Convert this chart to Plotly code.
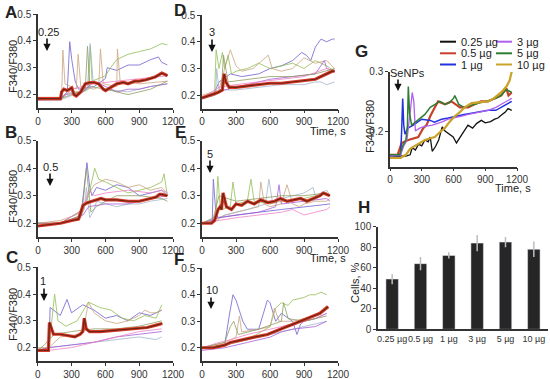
import plotly.graph_objects as go

W, H = 550, 379

# ---------------- data ----------------
TIME_TICKS = [0, 300, 600, 900, 1200]
RATIO_TICKS = [0.2, 0.3, 0.4, 0.5]
DOSE_ARROW = ["0.25", "0.5", "1", "3", "5", "10"]

# Panel A (0.25 µg)
A_mean_t = [0, 200, 210, 230, 260, 300, 320, 340, 380, 420, 460, 500, 540, 580, 600, 640, 700, 760, 800, 860, 900, 960, 1000, 1040, 1080, 1100, 1130, 1150]
A_mean_v = [0.185, 0.185, 0.21, 0.22, 0.215, 0.225, 0.2, 0.195, 0.21, 0.24, 0.245, 0.245, 0.24, 0.22, 0.215, 0.225, 0.24, 0.245, 0.24, 0.25, 0.25, 0.255, 0.26, 0.265, 0.275, 0.28, 0.275, 0.27]
A_thin_t = [
    [0, 200, 260, 282, 300, 330, 360, 500, 600, 615, 700, 800, 900, 1000, 1070, 1100, 1150],
    [0, 200, 240, 300, 400, 450, 465, 480, 600, 645, 700, 800, 900, 1000, 1050, 1100, 1150],
    [0, 210, 221, 240, 340, 357, 380, 500, 540, 555, 580, 700, 706, 730, 900, 1150],
    [0, 200, 440, 463, 490, 600, 800, 1000, 1150],
    [0, 200, 250, 400, 500, 600, 700, 800, 900, 1000, 1150],
    [0, 200, 300, 500, 700, 900, 1150],
    [0, 200, 300, 420, 440, 460, 600, 800, 1000, 1150],
]
A_thin_v = [
    [0.185, 0.185, 0.21, 0.397, 0.33, 0.25, 0.22, 0.23, 0.26, 0.3, 0.29, 0.31, 0.31, 0.33, 0.34, 0.32, 0.31],
    [0.18, 0.18, 0.2, 0.21, 0.21, 0.22, 0.38, 0.25, 0.27, 0.3, 0.33, 0.35, 0.36, 0.37, 0.38, 0.39, 0.385],
    [0.19, 0.19, 0.366, 0.24, 0.22, 0.35, 0.23, 0.22, 0.23, 0.37, 0.24, 0.23, 0.37, 0.25, 0.24, 0.25],
    [0.18, 0.18, 0.22, 0.39, 0.25, 0.22, 0.21, 0.23, 0.24],
    [0.18, 0.185, 0.2, 0.21, 0.25, 0.23, 0.21, 0.22, 0.22, 0.23, 0.24],
    [0.18, 0.18, 0.22, 0.24, 0.25, 0.26, 0.27],
    [0.185, 0.185, 0.2, 0.22, 0.38, 0.23, 0.22, 0.2, 0.22, 0.25],
]

# Panel B (0.5 µg)
B_mean_t = [0, 100, 200, 300, 360, 380, 400, 420, 440, 480, 520, 560, 600, 700, 800, 900, 1000, 1050, 1080, 1100, 1150]
B_mean_v = [0.19, 0.195, 0.2, 0.21, 0.215, 0.24, 0.265, 0.27, 0.275, 0.28, 0.285, 0.29, 0.285, 0.285, 0.28, 0.28, 0.29, 0.295, 0.305, 0.305, 0.3]
B_thin_t = [
    [0, 200, 380, 435, 460, 480, 520, 600, 700, 800, 900, 1000, 1100, 1150],
    [0, 200, 400, 450, 504, 540, 600, 700, 800, 900, 1000, 1100, 1120, 1150],
    [0, 200, 400, 440, 500, 600, 700, 800, 900, 1000, 1100, 1150],
    [0, 200, 410, 430, 460, 500, 520, 600, 700, 800, 900, 1000, 1150],
    [0, 200, 400, 450, 600, 800, 1000, 1150],
    [0, 200, 400, 450, 500, 600, 800, 1000, 1100, 1150],
    [0, 200, 390, 430, 470, 520, 600, 700, 900, 1100, 1150],
]
B_thin_v = [
    [0.2, 0.2, 0.22, 0.42, 0.33, 0.3, 0.33, 0.32, 0.34, 0.33, 0.3, 0.31, 0.32, 0.3],
    [0.19, 0.2, 0.25, 0.3, 0.40, 0.36, 0.35, 0.33, 0.31, 0.32, 0.33, 0.35, 0.38, 0.3],
    [0.2, 0.21, 0.24, 0.3, 0.34, 0.36, 0.35, 0.33, 0.34, 0.32, 0.33, 0.31],
    [0.19, 0.2, 0.25, 0.33, 0.22, 0.25, 0.28, 0.27, 0.26, 0.27, 0.27, 0.28, 0.29],
    [0.19, 0.2, 0.23, 0.26, 0.27, 0.27, 0.29, 0.3],
    [0.2, 0.2, 0.25, 0.32, 0.3, 0.31, 0.32, 0.31, 0.32, 0.31],
    [0.2, 0.2, 0.23, 0.4, 0.24, 0.26, 0.28, 0.3, 0.3, 0.29, 0.28],
]

# Panel C (1 µg)
C_mean_t = [0, 95, 104, 120, 140, 200, 258, 330, 377, 400, 413, 430, 460, 555, 704, 852, 970, 1060, 1105]
C_mean_v = [0.19, 0.19, 0.294, 0.27, 0.25, 0.25, 0.245, 0.24, 0.25, 0.26, 0.31, 0.27, 0.26, 0.26, 0.265, 0.27, 0.275, 0.285, 0.29]
C_thin_t = [
    [0, 100, 110, 200, 260, 300, 400, 500, 600, 700, 800, 900, 1000, 1100],
    [0, 100, 150, 180, 250, 350, 450, 550, 650, 750, 850, 950, 1050, 1100],
    [0, 100, 200, 380, 420, 450, 500, 600, 700, 800, 900, 950, 1000, 1050, 1100],
    [0, 100, 300, 500, 700, 900, 1050, 1100],
    [0, 100, 300, 500, 700, 900, 1100],
    [0, 100, 300, 500, 700, 900, 1100],
    [0, 60, 100, 150, 300, 500, 700, 900, 1100],
]
C_thin_v = [
    [0.19, 0.19, 0.35, 0.32, 0.38, 0.33, 0.36, 0.34, 0.31, 0.32, 0.3, 0.33, 0.32, 0.34],
    [0.19, 0.2, 0.4, 0.3, 0.28, 0.3, 0.37, 0.35, 0.34, 0.31, 0.3, 0.32, 0.31, 0.36],
    [0.2, 0.2, 0.24, 0.25, 0.3, 0.37, 0.33, 0.3, 0.29, 0.3, 0.32, 0.34, 0.33, 0.33, 0.34],
    [0.19, 0.2, 0.21, 0.22, 0.23, 0.24, 0.23, 0.24],
    [0.19, 0.2, 0.21, 0.22, 0.24, 0.25, 0.26],
    [0.19, 0.19, 0.2, 0.22, 0.24, 0.26, 0.27],
    [0.19, 0.21, 0.23, 0.25, 0.26, 0.27, 0.27, 0.28, 0.3],
]

# Panel D (3 µg)
D_mean_t = [0, 80, 140, 180, 195, 210, 240, 300, 400, 500, 600, 700, 800, 900, 1000, 1050, 1100, 1150, 1170]
D_mean_v = [0.19, 0.2, 0.21, 0.22, 0.28, 0.25, 0.23, 0.23, 0.235, 0.24, 0.245, 0.245, 0.25, 0.255, 0.26, 0.27, 0.28, 0.29, 0.29]
D_thin_t = [
    [0, 100, 150, 250, 350, 500, 600, 700, 800, 880, 920, 960, 1000, 1050, 1100, 1150, 1170],
    [0, 110, 125, 150, 180, 200, 230, 260, 300, 400, 500, 600, 700, 800, 900, 1000, 1100, 1170],
    [0, 150, 200, 250, 300, 350, 450, 585, 620, 700, 800, 900, 1000, 1100, 1170],
    [0, 120, 130, 150, 300, 500, 700, 900, 1000, 1050, 1100, 1170],
    [0, 200, 400, 600, 800, 1000, 1080, 1100, 1170],
    [0, 150, 300, 500, 700, 900, 1100, 1170],
    [0, 100, 170, 190, 230, 400, 600, 800, 1000, 1170],
]
D_thin_v = [
    [0.19, 0.2, 0.25, 0.28, 0.27, 0.28, 0.3, 0.31, 0.33, 0.36, 0.35, 0.33, 0.38, 0.41, 0.4, 0.41, 0.41],
    [0.19, 0.2, 0.37, 0.3, 0.36, 0.3, 0.35, 0.28, 0.29, 0.3, 0.32, 0.3, 0.31, 0.32, 0.3, 0.33, 0.31, 0.29],
    [0.2, 0.22, 0.3, 0.37, 0.31, 0.29, 0.3, 0.35, 0.3, 0.29, 0.3, 0.34, 0.32, 0.33, 0.3],
    [0.19, 0.2, 0.3, 0.22, 0.22, 0.23, 0.24, 0.24, 0.25, 0.25, 0.24, 0.25],
    [0.19, 0.22, 0.24, 0.26, 0.27, 0.28, 0.33, 0.3, 0.29],
    [0.19, 0.23, 0.24, 0.25, 0.26, 0.27, 0.3, 0.29],
    [0.19, 0.2, 0.22, 0.35, 0.25, 0.26, 0.27, 0.27, 0.28, 0.3],
]

# Panel E (5 µg)
E_mean_t = [0, 84, 110, 142, 160, 172, 186, 215, 260, 300, 350, 403, 460, 519, 580, 640, 693, 750, 810, 870, 925, 980, 1041, 1070, 1128]
E_mean_v = [0.2, 0.2, 0.21, 0.25, 0.26, 0.25, 0.31, 0.26, 0.25, 0.27, 0.265, 0.28, 0.27, 0.285, 0.275, 0.28, 0.29, 0.28, 0.285, 0.29, 0.28, 0.29, 0.3, 0.31, 0.3]
E_thin_t = [
    [0, 90, 100, 120, 140, 300, 500, 700, 900, 1100, 1130],
    [0, 120, 140, 160, 180, 250, 273, 300, 400, 432, 460, 600, 700, 900, 1000, 1100, 1130],
    [0, 130, 200, 300, 400, 500, 519, 550, 600, 700, 750, 800, 860, 900, 1000, 1100, 1130],
    [0, 130, 300, 400, 560, 590, 620, 700, 800, 900, 980, 1000, 1050, 1100, 1130],
    [0, 150, 300, 500, 650, 680, 700, 900, 1100, 1130],
    [0, 150, 300, 500, 700, 800, 850, 900, 1100, 1130],
    [0, 100, 150, 300, 500, 700, 900, 1100, 1130],
]
E_thin_v = [
    [0.2, 0.2, 0.36, 0.25, 0.22, 0.23, 0.24, 0.25, 0.26, 0.27, 0.27],
    [0.2, 0.21, 0.37, 0.26, 0.25, 0.26, 0.35, 0.27, 0.28, 0.36, 0.28, 0.27, 0.28, 0.29, 0.3, 0.31, 0.3],
    [0.2, 0.21, 0.23, 0.24, 0.25, 0.26, 0.35, 0.27, 0.26, 0.27, 0.34, 0.27, 0.26, 0.27, 0.28, 0.28, 0.29],
    [0.2, 0.22, 0.24, 0.25, 0.27, 0.36, 0.28, 0.29, 0.3, 0.31, 0.33, 0.3, 0.31, 0.32, 0.3],
    [0.2, 0.22, 0.23, 0.24, 0.26, 0.34, 0.27, 0.28, 0.29, 0.28],
    [0.2, 0.21, 0.22, 0.23, 0.24, 0.25, 0.24, 0.23, 0.25, 0.26],
    [0.2, 0.22, 0.3, 0.28, 0.29, 0.3, 0.3, 0.31, 0.3],
]

# Panel F (10 µg)
F_mean_t = [0, 100, 150, 200, 250, 345, 461, 577, 640, 693, 750, 809, 870, 925, 980, 1041, 1099, 1114]
F_mean_v = [0.2, 0.2, 0.205, 0.21, 0.22, 0.23, 0.24, 0.25, 0.26, 0.27, 0.28, 0.29, 0.3, 0.31, 0.32, 0.33, 0.35, 0.355]
F_thin_t = [
    [0, 200, 240, 273, 300, 330, 360, 400, 500, 577, 600, 650, 700, 800, 838, 870, 900, 1000, 1100],
    [0, 200, 400, 600, 650, 700, 760, 800, 900, 950, 1000, 1050, 1100],
    [0, 200, 300, 330, 350, 500, 600, 640, 680, 800, 900, 1000, 1100],
    [0, 200, 400, 600, 800, 900, 1000, 1100],
    [0, 200, 400, 600, 700, 800, 1000, 1100],
    [0, 150, 250, 400, 600, 800, 1000, 1100],
    [0, 200, 250, 280, 320, 500, 700, 720, 760, 900, 1100],
]
F_thin_v = [
    [0.2, 0.21, 0.32, 0.4, 0.38, 0.34, 0.3, 0.27, 0.27, 0.38, 0.37, 0.3, 0.33, 0.3, 0.25, 0.29, 0.3, 0.31, 0.33],
    [0.2, 0.21, 0.23, 0.28, 0.35, 0.37, 0.36, 0.38, 0.39, 0.4, 0.4, 0.41, 0.4],
    [0.2, 0.22, 0.24, 0.32, 0.26, 0.27, 0.28, 0.35, 0.3, 0.3, 0.31, 0.32, 0.36],
    [0.2, 0.21, 0.23, 0.25, 0.27, 0.28, 0.29, 0.3],
    [0.19, 0.2, 0.22, 0.24, 0.26, 0.27, 0.28, 0.3],
    [0.2, 0.22, 0.23, 0.25, 0.27, 0.29, 0.31, 0.33],
    [0.2, 0.22, 0.28, 0.3, 0.25, 0.27, 0.3, 0.37, 0.31, 0.3, 0.32],
]

# Panel G (averages per dose)
G_labels = ["0.25 µg", "0.5 µg", "1 µg", "3 µg", "5 µg", "10 µg"]
G_t = [
    [0, 150, 190, 210, 240, 270, 300, 330, 361, 380, 399, 430, 460, 493, 520, 550, 597, 628, 670, 700, 737, 780, 820, 863, 900, 950, 989, 1020, 1053, 1090, 1115, 1150],
    [0, 72, 110, 173, 267, 314, 345, 380, 424, 455, 520, 581, 660, 738, 800, 860, 926, 989, 1052, 1080, 1099, 1120, 1150],
    [0, 100, 110, 120, 130, 141, 170, 220, 300, 380, 420, 487, 550, 613, 700, 770, 850, 927, 1000, 1050, 1100, 1150],
    [0, 100, 130, 160, 190, 210, 225, 240, 280, 330, 400, 487, 550, 613, 678, 740, 801, 870, 927, 1000, 1050, 1100, 1150],
    [0, 90, 120, 150, 165, 173, 185, 204, 240, 283, 330, 380, 430, 471, 520, 560, 600, 612, 650, 700, 800, 900, 1000, 1050, 1100, 1150],
    [0, 100, 150, 190, 236, 280, 330, 380, 424, 470, 518, 560, 612, 660, 707, 770, 860, 927, 980, 1050, 1100, 1130, 1150],
]
G_v = [
    [0.157, 0.158, 0.16, 0.172, 0.168, 0.178, 0.175, 0.185, 0.182, 0.19, 0.166, 0.174, 0.185, 0.207, 0.2, 0.196, 0.19, 0.18, 0.193, 0.2, 0.21, 0.205, 0.213, 0.218, 0.214, 0.216, 0.22, 0.222, 0.227, 0.232, 0.238, 0.235],
    [0.16, 0.16, 0.18, 0.185, 0.19, 0.205, 0.21, 0.225, 0.24, 0.25, 0.245, 0.25, 0.24, 0.24, 0.245, 0.25, 0.25, 0.255, 0.26, 0.268, 0.272, 0.26, 0.265],
    [0.158, 0.158, 0.2, 0.255, 0.21, 0.195, 0.205, 0.21, 0.22, 0.218, 0.215, 0.22, 0.222, 0.225, 0.228, 0.23, 0.232, 0.235, 0.235, 0.24, 0.245, 0.25],
    [0.158, 0.16, 0.175, 0.185, 0.23, 0.265, 0.25, 0.2, 0.205, 0.208, 0.21, 0.215, 0.22, 0.222, 0.225, 0.228, 0.23, 0.232, 0.235, 0.24, 0.245, 0.25, 0.255],
    [0.16, 0.16, 0.175, 0.185, 0.21, 0.275, 0.23, 0.21, 0.215, 0.222, 0.228, 0.24, 0.245, 0.25, 0.245, 0.248, 0.255, 0.26, 0.245, 0.24, 0.245, 0.25, 0.255, 0.26, 0.27, 0.265],
    [0.155, 0.155, 0.16, 0.17, 0.175, 0.18, 0.185, 0.188, 0.19, 0.198, 0.205, 0.215, 0.225, 0.232, 0.24, 0.247, 0.248, 0.25, 0.255, 0.265, 0.275, 0.285, 0.3],
]

# Panel H
H_doses = ["0.25 µg", "0.5 µg", "1 µg", "3 µg", "5 µg", "10 µg"]
H_cells = [49, 64, 72, 84, 85, 78]
H_err = [5, 6.5, 3, 8, 5, 7.5]

# ---------------- styling / layout helpers ----------------
FONT = "Liberation Sans, Arial, sans-serif"
AX = "#333333"
THIN_COLORS = ["#6a5acd", "#8fbc4f", "#c8a27a", "#9fb3c8", "#a45ad6", "#ee7fc4", "#8a9a5b"]
G_COLORS = ["#111111", "#c8402a", "#2233dd", "#b060f0", "#2e7d32", "#c9a227"]
G_WIDTHS = [1.3, 2.2, 1.5, 1.3, 1.5, 2.2]


def px_x(px):
    return px / W


def px_y(py):
    return 1 - py / H


# pixel boxes: (left, right, top, bottom)
boxes = {
    "A": (38, 173, 14, 108),
    "B": (38, 173, 140.7, 237),
    "C": (37.7, 173, 267.3, 361),
    "D": (202, 338, 15, 108.7),
    "E": (202, 338, 140.7, 237),
    "F": (202, 338, 268.3, 361),
    "G": (390, 517, 71.7, 166.7),
    "H": (378, 548, 226.7, 329.3),
}
order = ["A", "B", "C", "D", "E", "F", "G", "H"]

fig = go.Figure()
layout = dict(
    width=W, height=H, margin=dict(l=0, r=0, t=0, b=0, autoexpand=False),
    paper_bgcolor="white", plot_bgcolor="white", showlegend=False,
    font=dict(family=FONT, size=10, color=AX),
)

for i, key in enumerate(order):
    n = "" if i == 0 else str(i + 1)
    l, r, t, b = boxes[key]
    common = dict(showline=True, linecolor=AX, linewidth=1.5, ticks="outside",
                  ticklen=3, tickcolor=AX, tickwidth=1.2, showgrid=False, zeroline=False,
                  automargin=False, tickangle=0,
                  tickfont=dict(family=FONT, size=10, color=AX))
    xa = dict(domain=[px_x(l), px_x(r)], anchor="y" + n, **common)
    ya = dict(domain=[px_y(b), px_y(t)], anchor="x" + n, **common)
    if key in "ABCDEF":
        xa.update(range=[0, 1200], tickvals=TIME_TICKS)
        ya.update(range=[0.15, 0.5], tickvals=RATIO_TICKS, ticktext=[f"{v:.1f}" for v in RATIO_TICKS])
    elif key == "G":
        xa.update(range=[0, 1200], tickvals=TIME_TICKS)
        ya.update(range=[0.14, 0.3], tickvals=[0.2, 0.3], ticktext=["0.2", "0.3"])
    else:
        xa.update(type="category", ticks="", tickfont=dict(family=FONT, size=9, color=AX))
        ya.update(range=[0, 100], tickvals=[0, 20, 40, 60, 80, 100])
    layout["xaxis" + n] = xa
    layout["yaxis" + n] = ya

panel_data = {
    "A": (A_mean_t, A_mean_v, A_thin_t, A_thin_v),
    "B": (B_mean_t, B_mean_v, B_thin_t, B_thin_v),
    "C": (C_mean_t, C_mean_v, C_thin_t, C_thin_v),
    "D": (D_mean_t, D_mean_v, D_thin_t, D_thin_v),
    "E": (E_mean_t, E_mean_v, E_thin_t, E_thin_v),
    "F": (F_mean_t, F_mean_v, F_thin_t, F_thin_v),
}

for i, key in enumerate(order[:6]):
    n = "" if i == 0 else str(i + 1)
    mt, mv, tt, tv = panel_data[key]
    for j, (ts, vs) in enumerate(zip(tt, tv)):
        fig.add_trace(go.Scatter(x=ts, y=vs, mode="lines", xaxis="x" + n, yaxis="y" + n,
                                 line=dict(color=THIN_COLORS[j % len(THIN_COLORS)], width=0.9),
                                 opacity=0.85, hoverinfo="skip"))
    fig.add_trace(go.Scatter(x=mt, y=mv, mode="lines", xaxis="x" + n, yaxis="y" + n,
                             line=dict(color="#d93a2b", width=3.2), hoverinfo="skip"))
    fig.add_trace(go.Scatter(x=mt, y=mv, mode="lines", xaxis="x" + n, yaxis="y" + n,
                             line=dict(color="#6b2410", width=1.2), hoverinfo="skip"))

# Panel G
for j in range(len(G_labels)):
    fig.add_trace(go.Scatter(x=G_t[j], y=G_v[j], mode="lines", xaxis="x7", yaxis="y7",
                             line=dict(color=G_COLORS[j], width=G_WIDTHS[j]), name=G_labels[j],
                             cliponaxis=False))

# Panel H
fig.add_trace(go.Bar(x=H_doses, y=H_cells, xaxis="x8", yaxis="y8", marker_color="#262626",
                     width=0.44,
                     error_y=dict(type="data", array=H_err, color="#bdbdbd", thickness=1.5, width=0)))

annotations = []
shapes = []


def text(px, py, s, size=11, bold=False, angle=0, xanchor="center"):
    annotations.append(dict(x=px_x(px), y=px_y(py), xref="paper", yref="paper", text=f"<b>{s}</b>" if bold else s,
                            showarrow=False, xanchor=xanchor, yanchor="middle", textangle=angle,
                            font=dict(family=FONT, size=size, color="#222222")))


def arrow(px, py_tail, py_tip):
    annotations.append(dict(x=px_x(px), y=px_y(py_tip), xref="paper", yref="paper", text="",
                            showarrow=True, ax=0, ay=-(py_tip - py_tail), arrowhead=2, arrowsize=0.9,
                            arrowwidth=1.6, arrowcolor="#111111"))


# panel letters
for key, (px, py) in {"A": (11, 12), "B": (11, 133), "C": (12, 257), "D": (180, 11), "E": (180, 132),
                      "F": (179, 259), "G": (361, 52), "H": (364, 207)}.items():
    text(px, py, key, size=17, bold=True)

# y titles
for (px, py) in [(13, 67), (13, 197), (13, 315), (370, 127)]:
    text(px, py, "F340/F380", size=11, angle=-90)
text(355, 283, "Cells, %", size=11, angle=-90)

# x titles
for (px, py) in [(328, 131), (328, 258), (513, 188)]:
    text(px, py, "Time, s", size=11)

# dose arrows
arrow_pos = [(48, 32, 47, 37, 51), (50, 167, 50, 172, 186), (43, 281, 44, 287, 301),
             (212, 32, 212, 38, 52), (210, 154, 210, 159, 173), (212, 290, 211, 296, 309)]
for lab, (tx, ty, axp, ytail, ytip) in zip(DOSE_ARROW, arrow_pos):
    text(tx, ty, lab, size=11)
    arrow(axp, ytail, ytip)
text(407, 73, "SeNPs", size=11)
arrow(398, 78, 91)

# manual legend for G
leg_pos = [(440, 41.7), (440, 53.3), (440, 64.5), (496, 41.7), (496, 53.3), (496, 64.5)]
for j, (lx, ly) in enumerate(leg_pos):
    shapes.append(dict(type="line", xref="paper", yref="paper", x0=px_x(lx), x1=px_x(lx + 16),
                       y0=px_y(ly), y1=px_y(ly), line=dict(color=G_COLORS[j], width=2)))
    text(lx + 19, ly, G_labels[j], size=11, xanchor="left")

layout["annotations"] = annotations
layout["shapes"] = shapes
fig.update_layout(**layout)
fig.write_html("out.html", config={"displayModeBar": False},
               post_script="document.body.style.margin='0';document.body.style.overflow='hidden';")
